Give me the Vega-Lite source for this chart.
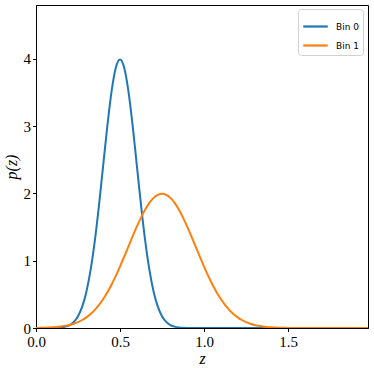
{
  "$schema": "https://vega.github.io/schema/vega-lite/v6.json",
  "width": 332,
  "height": 323,
  "autosize": {"type": "none"},
  "padding": {"left": 36, "top": 5, "right": 6, "bottom": 40},
  "background": "white",
  "config": {
    "view": {"stroke": "black", "strokeWidth": 1},
    "axis": {
      "labelFont": "Liberation Serif",
      "labelFontSize": 15,
      "labelColor": "black",
      "titleFont": "Liberation Serif",
      "titleFontSize": 16,
      "titleFontStyle": "italic",
      "titleFontWeight": "normal",
      "titleColor": "black",
      "tickColor": "black",
      "tickSize": 3.5,
      "domainColor": "black",
      "grid": false
    }
  },
  "datasets": {
    "curves": [
      {"z": 0.0, "p": 0.0, "bin": "Bin 0"},
      {"z": 0.05, "p": 0.00016, "bin": "Bin 0"},
      {"z": 0.075, "p": 0.00048, "bin": "Bin 0"},
      {"z": 0.1, "p": 0.00134, "bin": "Bin 0"},
      {"z": 0.125, "p": 0.00353, "bin": "Bin 0"},
      {"z": 0.15, "p": 0.00873, "bin": "Bin 0"},
      {"z": 0.175, "p": 0.0203, "bin": "Bin 0"},
      {"z": 0.2, "p": 0.0443, "bin": "Bin 0"},
      {"z": 0.225, "p": 0.0909, "bin": "Bin 0"},
      {"z": 0.25, "p": 0.1753, "bin": "Bin 0"},
      {"z": 0.275, "p": 0.3174, "bin": "Bin 0"},
      {"z": 0.3, "p": 0.5399, "bin": "Bin 0"},
      {"z": 0.325, "p": 0.8628, "bin": "Bin 0"},
      {"z": 0.35, "p": 1.2952, "bin": "Bin 0"},
      {"z": 0.375, "p": 1.8265, "bin": "Bin 0"},
      {"z": 0.4, "p": 2.4197, "bin": "Bin 0"},
      {"z": 0.425, "p": 3.0114, "bin": "Bin 0"},
      {"z": 0.45, "p": 3.5207, "bin": "Bin 0"},
      {"z": 0.475, "p": 3.8667, "bin": "Bin 0"},
      {"z": 0.5, "p": 3.9894, "bin": "Bin 0"},
      {"z": 0.525, "p": 3.8667, "bin": "Bin 0"},
      {"z": 0.55, "p": 3.5207, "bin": "Bin 0"},
      {"z": 0.575, "p": 3.0114, "bin": "Bin 0"},
      {"z": 0.6, "p": 2.4197, "bin": "Bin 0"},
      {"z": 0.625, "p": 1.8265, "bin": "Bin 0"},
      {"z": 0.65, "p": 1.2952, "bin": "Bin 0"},
      {"z": 0.675, "p": 0.8628, "bin": "Bin 0"},
      {"z": 0.7, "p": 0.5399, "bin": "Bin 0"},
      {"z": 0.725, "p": 0.3174, "bin": "Bin 0"},
      {"z": 0.75, "p": 0.1753, "bin": "Bin 0"},
      {"z": 0.775, "p": 0.0909, "bin": "Bin 0"},
      {"z": 0.8, "p": 0.0443, "bin": "Bin 0"},
      {"z": 0.825, "p": 0.0203, "bin": "Bin 0"},
      {"z": 0.85, "p": 0.00873, "bin": "Bin 0"},
      {"z": 0.875, "p": 0.00353, "bin": "Bin 0"},
      {"z": 0.9, "p": 0.00134, "bin": "Bin 0"},
      {"z": 0.95, "p": 0.00016, "bin": "Bin 0"},
      {"z": 1.0, "p": 0.0, "bin": "Bin 0"},
      {"z": 1.5, "p": 0.0, "bin": "Bin 0"},
      {"z": 1.98, "p": 0.0, "bin": "Bin 0"},
      {"z": 0.0, "p": 0.00177, "bin": "Bin 1"},
      {"z": 0.025, "p": 0.00279, "bin": "Bin 1"},
      {"z": 0.05, "p": 0.00436, "bin": "Bin 1"},
      {"z": 0.075, "p": 0.00671, "bin": "Bin 1"},
      {"z": 0.1, "p": 0.01015, "bin": "Bin 1"},
      {"z": 0.125, "p": 0.01511, "bin": "Bin 1"},
      {"z": 0.15, "p": 0.02216, "bin": "Bin 1"},
      {"z": 0.175, "p": 0.032, "bin": "Bin 1"},
      {"z": 0.2, "p": 0.04546, "bin": "Bin 1"},
      {"z": 0.225, "p": 0.06361, "bin": "Bin 1"},
      {"z": 0.25, "p": 0.08765, "bin": "Bin 1"},
      {"z": 0.275, "p": 0.11886, "bin": "Bin 1"},
      {"z": 0.3, "p": 0.1587, "bin": "Bin 1"},
      {"z": 0.325, "p": 0.20857, "bin": "Bin 1"},
      {"z": 0.35, "p": 0.26996, "bin": "Bin 1"},
      {"z": 0.375, "p": 0.34393, "bin": "Bin 1"},
      {"z": 0.4, "p": 0.43139, "bin": "Bin 1"},
      {"z": 0.425, "p": 0.53268, "bin": "Bin 1"},
      {"z": 0.45, "p": 0.64759, "bin": "Bin 1"},
      {"z": 0.475, "p": 0.77511, "bin": "Bin 1"},
      {"z": 0.5, "p": 0.91324, "bin": "Bin 1"},
      {"z": 0.525, "p": 1.05939, "bin": "Bin 1"},
      {"z": 0.55, "p": 1.20985, "bin": "Bin 1"},
      {"z": 0.575, "p": 1.36027, "bin": "Bin 1"},
      {"z": 0.6, "p": 1.50569, "bin": "Bin 1"},
      {"z": 0.625, "p": 1.64081, "bin": "Bin 1"},
      {"z": 0.65, "p": 1.76033, "bin": "Bin 1"},
      {"z": 0.675, "p": 1.85927, "bin": "Bin 1"},
      {"z": 0.7, "p": 1.93334, "bin": "Bin 1"},
      {"z": 0.725, "p": 1.97919, "bin": "Bin 1"},
      {"z": 0.75, "p": 1.99471, "bin": "Bin 1"},
      {"z": 0.775, "p": 1.97919, "bin": "Bin 1"},
      {"z": 0.8, "p": 1.93334, "bin": "Bin 1"},
      {"z": 0.825, "p": 1.85927, "bin": "Bin 1"},
      {"z": 0.85, "p": 1.76033, "bin": "Bin 1"},
      {"z": 0.875, "p": 1.64081, "bin": "Bin 1"},
      {"z": 0.9, "p": 1.50569, "bin": "Bin 1"},
      {"z": 0.925, "p": 1.36027, "bin": "Bin 1"},
      {"z": 0.95, "p": 1.20985, "bin": "Bin 1"},
      {"z": 0.975, "p": 1.05939, "bin": "Bin 1"},
      {"z": 1.0, "p": 0.91324, "bin": "Bin 1"},
      {"z": 1.025, "p": 0.77511, "bin": "Bin 1"},
      {"z": 1.05, "p": 0.64759, "bin": "Bin 1"},
      {"z": 1.075, "p": 0.53268, "bin": "Bin 1"},
      {"z": 1.1, "p": 0.43139, "bin": "Bin 1"},
      {"z": 1.125, "p": 0.34393, "bin": "Bin 1"},
      {"z": 1.15, "p": 0.26996, "bin": "Bin 1"},
      {"z": 1.175, "p": 0.20857, "bin": "Bin 1"},
      {"z": 1.2, "p": 0.1587, "bin": "Bin 1"},
      {"z": 1.225, "p": 0.11886, "bin": "Bin 1"},
      {"z": 1.25, "p": 0.08765, "bin": "Bin 1"},
      {"z": 1.275, "p": 0.06361, "bin": "Bin 1"},
      {"z": 1.3, "p": 0.04546, "bin": "Bin 1"},
      {"z": 1.325, "p": 0.032, "bin": "Bin 1"},
      {"z": 1.35, "p": 0.02216, "bin": "Bin 1"},
      {"z": 1.375, "p": 0.01511, "bin": "Bin 1"},
      {"z": 1.4, "p": 0.01015, "bin": "Bin 1"},
      {"z": 1.425, "p": 0.00671, "bin": "Bin 1"},
      {"z": 1.45, "p": 0.00436, "bin": "Bin 1"},
      {"z": 1.475, "p": 0.00279, "bin": "Bin 1"},
      {"z": 1.5, "p": 0.00177, "bin": "Bin 1"},
      {"z": 1.55, "p": 0.0007, "bin": "Bin 1"},
      {"z": 1.6, "p": 0.0002, "bin": "Bin 1"},
      {"z": 1.7, "p": 0.0, "bin": "Bin 1"},
      {"z": 1.98, "p": 0.0, "bin": "Bin 1"}
    ]
  },
  "data": {"name": "curves"},
  "mark": {"type": "line", "strokeWidth": 2, "interpolate": "monotone", "clip": true},
  "encoding": {
    "x": {
      "field": "z", "type": "quantitative",
      "scale": {"domain": [0, 1.976], "nice": false, "zero": false},
      "axis": {"values": [0, 0.5, 1, 1.5], "format": ".1f", "title": "z", "labelPadding": 3, "titlePadding": 1, "labelFlush": false}
    },
    "y": {
      "field": "p", "type": "quantitative",
      "scale": {"domain": [0, 4.8], "nice": false},
      "axis": {"values": [0, 1, 2, 3, 4], "format": "d", "title": "p(z)", "labelPadding": 2, "titlePadding": 4, "labelFlush": false}
    },
    "color": {
      "field": "bin", "type": "nominal",
      "scale": {"domain": ["Bin 0", "Bin 1"], "range": ["#1f77b4", "#ff7f0e"]},
      "legend": {
        "title": null,
        "orient": "none",
        "legendX": 262,
        "legendY": 4,
        "symbolType": "stroke",
        "symbolSize": 600,
        "symbolStrokeWidth": 2.2,
        "labelFont": "DejaVu Sans",
        "labelFontSize": 9,
        "labelColor": "black",
        "labelOffset": 7,
        "rowPadding": 0,
        "padding": 4,
        "strokeColor": "#d0d0d0",
        "fillColor": "white",
        "cornerRadius": 3
      }
    },
    "order": {"field": "z", "type": "quantitative"}
  }
}
